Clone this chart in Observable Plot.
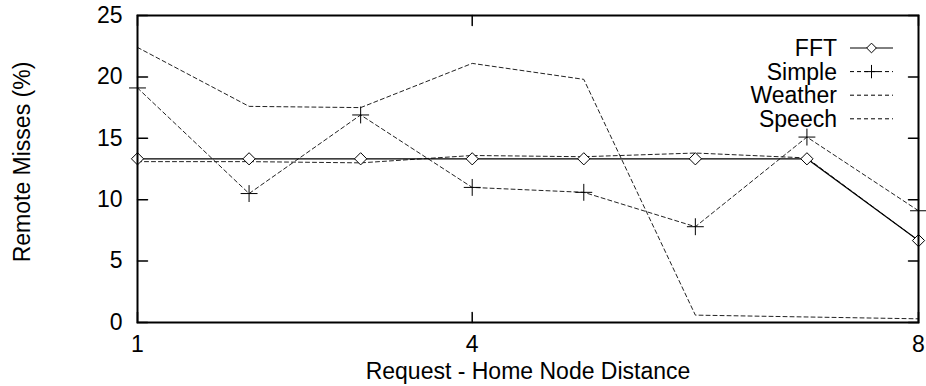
<!DOCTYPE html>
<html><head><meta charset="utf-8">
<script src="https://cdn.jsdelivr.net/npm/d3@7"></script>
<script src="https://cdn.jsdelivr.net/npm/@observablehq/plot@0.6"></script>
<style>
body{margin:0;background:#fff;}
#wrap{position:relative;width:926px;height:386px;font-family:"Liberation Sans",Arial,Helvetica,sans-serif;}
#legend{position:absolute;left:0;top:0;pointer-events:none;}
</style></head><body><div id="wrap"></div>
<script>
const distances = [1, 2, 3, 4, 5, 6, 7, 8];
const fft     = [13.33, 13.33, 13.33, 13.33, 13.33, 13.33, 13.33, 6.67];
const simple  = [19.1, 10.5, 16.9, 11.0, 10.6, 7.8, 15.1, 9.1];
const weather = [22.4, 17.6, 17.5, 21.1, 19.8, 0.6, 0.45, 0.3];
const speech  = [13.1, 13.1, 13.0, 13.6, 13.5, 13.8, 13.4, 6.67];
const seriesNames = ["FFT", "Simple", "Weather", "Speech"];
const xTicks = [1, 4, 8];
const yTicks = [0, 5, 10, 15, 20, 25];
const xLabel = "Request - Home Node Distance";
const yLabel = "Remote Misses (%)";

const values = {FFT: fft, Simple: simple, Weather: weather, Speech: speech};
const rows = seriesNames.flatMap(s => distances.map((d, i) => ({series: s, x: d, y: values[s][i]})));
const of = s => rows.filter(r => r.series === s);
const dash = "4,3";
const FS = 23;
const FONT = '"Liberation Sans", Arial, Helvetica, sans-serif';
const tickShape = {draw(context, l) { context.moveTo(0, 0); context.lineTo(0, -l); }};
const tickOpts = {length: 10, anchor: "start", strokeWidth: 1.5, stroke: "#000", shape: tickShape};

const chart = Plot.plot({
  width: 926, height: 386,
  marginLeft: 137, marginRight: 8, marginTop: 15, marginBottom: 64,
  style: {fontSize: FS + "px", fontFamily: FONT, color: "#000", background: "#fff"},
  x: {domain: [1, 8]},
  y: {domain: [0, 25]},
  marks: [
    Plot.axisX({ticks: xTicks, tickSize: 0, tickPadding: 13, fontSize: FS, tickFormat: d => String(d), label: null}),
    Plot.axisY({ticks: yTicks, tickSize: 0, tickPadding: 15, fontSize: FS, tickFormat: d => String(d), label: null}),
    Plot.text([xLabel], {text: d => d, frameAnchor: "bottom", dy: 49.5, lineAnchor: "middle", textAnchor: "middle", fontSize: FS}),
    Plot.text([yLabel], {text: d => d, frameAnchor: "left", rotate: -90, dx: -115, dy: -7, lineAnchor: "middle", textAnchor: "middle", fontSize: FS}),
    Plot.line(of("Weather"), {x: "x", y: "y", stroke: "#222", strokeWidth: 1, strokeDasharray: dash}),
    Plot.line(of("Speech"), {x: "x", y: "y", stroke: "#222", strokeWidth: 1, strokeDasharray: dash}),
    Plot.line(of("Simple"), {x: "x", y: "y", stroke: "#222", strokeWidth: 1, strokeDasharray: dash}),
    Plot.line(of("FFT"), {x: "x", y: "y", stroke: "#000", strokeWidth: 1.2}),
    Plot.dot(of("Simple"), {x: "x", y: "y", symbol: "plus", r: 5.5, stroke: "#000", strokeWidth: 1}),
    Plot.dot(of("FFT"), {x: "x", y: "y", symbol: "diamond2", r: 5.5, stroke: "#000", fill: "#fff", strokeWidth: 1}),
    Plot.vector(yTicks, {y: d => d, frameAnchor: "left", rotate: 90, ...tickOpts}),
    Plot.vector(yTicks, {y: d => d, frameAnchor: "right", rotate: -90, ...tickOpts}),
    Plot.vector(xTicks, {x: d => d, frameAnchor: "bottom", rotate: 0, ...tickOpts}),
    Plot.vector(xTicks, {x: d => d, frameAnchor: "top", rotate: 180, ...tickOpts}),
    Plot.frame({stroke: "#000", strokeWidth: 2})
  ]
});
const wrap = document.getElementById("wrap");
wrap.appendChild(chart);

// Legend (inside plot, top-right)
const legend = d3.select(wrap).append("svg").attr("id", "legend").attr("width", 926).attr("height", 386);
const textRight = 837, lineX1 = 850, lineX2 = 893, row0 = 48, rowStep = 23.6;
seriesNames.forEach((s, i) => {
  const cy = row0 + i * rowStep;
  legend.append("text").attr("x", textRight).attr("y", cy).attr("dy", "0.36em")
    .attr("text-anchor", "end").attr("font-size", FS)
    .attr("font-family", FONT).text(s);
  legend.append("line").attr("x1", lineX1).attr("x2", lineX2).attr("y1", cy).attr("y2", cy)
    .attr("stroke", "#000").attr("stroke-width", 1)
    .attr("stroke-dasharray", s === "FFT" ? null : dash);
  const mx = (lineX1 + lineX2) / 2;
  if (s === "FFT") {
    legend.append("path").attr("d", d3.symbol(d3.symbolDiamond2, 60)()).attr("transform", `translate(${mx},${cy})`)
      .attr("fill", "#fff").attr("stroke", "#000");
  } else if (s === "Simple") {
    legend.append("path").attr("d", d3.symbol(d3.symbolPlus, 60)()).attr("transform", `translate(${mx},${cy})`)
      .attr("fill", "none").attr("stroke", "#000");
  }
});
</script></body></html>
